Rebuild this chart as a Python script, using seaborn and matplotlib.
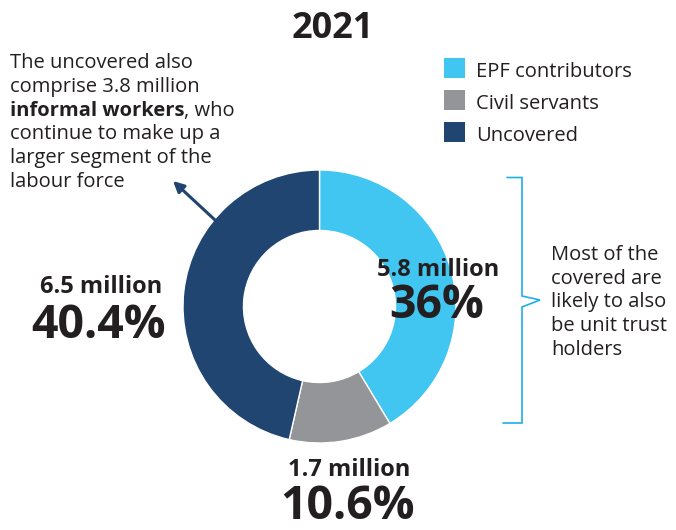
import matplotlib
matplotlib.use("Agg")
import matplotlib.pyplot as plt
from matplotlib.patches import Rectangle, FancyArrowPatch
import seaborn as sns

# Workforce coverage, 2021
categories = ["EPF contributors", "Civil servants", "Uncovered"]
share_pct = [36, 10.6, 40.4]
workers_mn = [5.8, 1.7, 6.5]
year_label = "2021"

palette = sns.color_palette(["#41C6F2", "#939598", "#1F4570"])
bracket_color = "#1FAEE6"
text_color = "#231F20"

sns.set_theme(style="white")
plt.rcParams["font.family"] = ["Open Sans", "DejaVu Sans"]

W, H = 676, 530
fig = plt.figure(figsize=(W / 100, H / 100), dpi=100)

# Donut: centre and radius in pixels
cx, cy, R = 319.5, 306.5, 136.5
ax = fig.add_axes([(cx - R) / W, (H - cy - R) / H, 2 * R / W, 2 * R / H])
wedges, _ = ax.pie(
    share_pct,
    colors=palette,
    startangle=90,
    counterclock=False,
    radius=1,
    wedgeprops=dict(width=0.443, edgecolor="white", linewidth=1.0),
)
ax.set_xlim(-1, 1)
ax.set_ylim(-1, 1)
ax.axis("off")

# Overlay in pixel coordinates for text and annotations
ov = fig.add_axes([0, 0, 1, 1], facecolor="none")
ov.set_xlim(0, W)
ov.set_ylim(H, 0)
ov.axis("off")

ov.text(333, 38, year_label, ha="center", va="baseline",
        fontsize=26, fontweight="bold", color=text_color)

# Legend
leg_y = [58, 90, 122]
for name, col, y in zip(categories, palette, leg_y):
    ov.add_patch(Rectangle((443.5, y), 21.5, 20, facecolor=col, edgecolor="none"))
    ov.text(476, y + 19.3, name, ha="left", va="baseline",
            fontsize=14.5, color=text_color)

# Note on the uncovered
note_lines = [
    ("The uncovered also", None),
    ("comprise 3.8 million", None),
    ("informal workers", ", who"),
    ("continue to make up a", None),
    ("larger segment of the", None),
    ("labour force", None),
]
note_base = [68.3, 92.0, 115.7, 139.4, 163.1, 186.8]
fig.canvas.draw()
renderer = fig.canvas.get_renderer()
for (first, rest), yb in zip(note_lines, note_base):
    if rest is None:
        ov.text(9.5, yb, first, ha="left", va="baseline",
                fontsize=14.5, color=text_color)
    else:
        t = ov.text(9.5, yb, first, ha="left", va="baseline",
                    fontsize=14.5, fontweight="bold", color=text_color)
        bb = t.get_window_extent(renderer=renderer)
        ov.text(bb.x1, yb, rest, ha="left", va="baseline",
                fontsize=14.5, color=text_color)

ov.add_patch(FancyArrowPatch((215, 220), (173, 181), arrowstyle="-|>",
                             mutation_scale=16, lw=2.2, color=palette[2],
                             shrinkA=0, shrinkB=0))

# Bracket around the covered segments
bx = [507, 522, 522, 540, 522, 522, 503]
by = [177.5, 177.5, 296, 300, 307, 423, 423]
ov.plot(bx, by, color=bracket_color, lw=1.2, solid_joinstyle="miter")

side_lines = ["Most of the", "covered are", "likely to also",
              "be unit trust", "holders"]
for i, line in enumerate(side_lines):
    ov.text(551, 260 + i * 23.75, line, ha="left", va="baseline",
            fontsize=14.5, color=text_color)

# Value labels per segment
label_pos = [
    (438, 276, 437, 318),    # EPF contributors
    (349, 476.5, 348, 519),  # Civil servants
    (101, 293, 99, 338),     # Uncovered
]
for mn, pct, (mx, my, px, py) in zip(workers_mn, share_pct, label_pos):
    ov.text(mx, my, f"{mn:g} million", ha="center", va="baseline",
            fontsize=17, fontweight="bold", color=text_color)
    ov.text(px, py, f"{pct:g}%", ha="center", va="baseline",
            fontsize=33.5, fontweight="bold", color=text_color)

fig.savefig("out.png", dpi=100)
